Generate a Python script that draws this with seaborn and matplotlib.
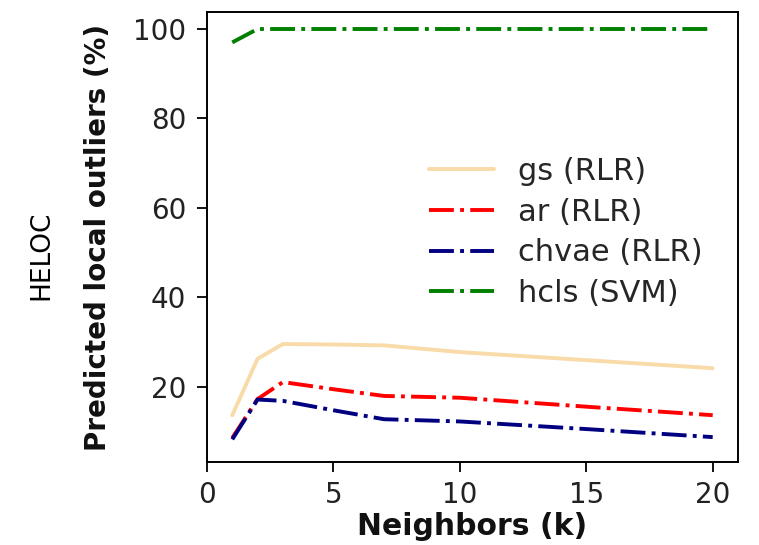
import numpy as np
import pandas as pd
import matplotlib
matplotlib.use("Agg")
import matplotlib.pyplot as plt
import seaborn as sns

neighbors = [1, 2, 3, 5, 7, 10, 15, 20]
gs_rlr = [13.7, 26.3, 29.6, 29.5, 29.3, 27.8, 26.0, 24.2]
ar_rlr = [8.6, 17.3, 21.1, 19.5, 18.0, 17.6, 15.6, 13.7]
chvae_rlr = [8.3, 17.2, 16.9, 14.8, 12.8, 12.3, 10.6, 8.8]
hcls_svm = [97.0, 100.0, 100.0, 100.0, 100.0, 100.0, 100.0, 100.0]

labels = ["gs (RLR)", "ar (RLR)", "chvae (RLR)", "hcls (SVM)"]
colors = ["#F8DBA8", "#FF0000", "#000080", "#008000"]
styles = ["-", "-.", "-.", "-."]

sns.set_style("ticks")
plt.rcParams['font.family'] = ['DejaVu Sans']

df = pd.DataFrame({
    "k": neighbors * 4,
    "value": gs_rlr + ar_rlr + chvae_rlr + hcls_svm,
    "method": sum([[l] * len(neighbors) for l in labels], []),
})

fig = plt.figure(figsize=(7.59, 5.45), dpi=100)
ax = fig.add_axes([0.2727, 0.1523, 0.6996, 0.8257])

for lab, col, ls in zip(labels, colors, styles):
    sub = df[df["method"] == lab]
    sns.lineplot(data=sub, x="k", y="value", ax=ax, color=col, linestyle=ls,
                 linewidth=2.8, label=lab)

ax.set_xticks([0, 5, 10, 15, 20])
ax.set_yticks([20, 40, 60, 80, 100])
ax.tick_params(axis="both", labelsize=20, length=7, width=1.3, colors="black",
               labelcolor="#222222")
ax.tick_params(axis="y", pad=8)
ax.tick_params(axis="x", pad=7)
for s in ax.spines.values():
    s.set_linewidth(1.4)
    s.set_color("black")
ax.set_xlabel("Neighbors (k)", fontsize=21.5, fontweight="bold", labelpad=2,
              color="#111111")
ax.set_ylabel("Predicted local outliers (%)", fontsize=20, fontweight="bold",
              labelpad=15, color="#111111")
ax.set_xlim(0.0, 21.0)
ax.set_ylim(3.24, 103.8)

ax.legend(loc="center left", bbox_to_anchor=(0.367, 0.51), frameon=False,
          fontsize=22, handlelength=2.1, labelspacing=0.38, handletextpad=0.8)

fig.text(0.055, 0.532, "HELOC", rotation=90, fontsize=19, va="center",
         ha="center", color="black")

fig.savefig("out.png", dpi=100)
